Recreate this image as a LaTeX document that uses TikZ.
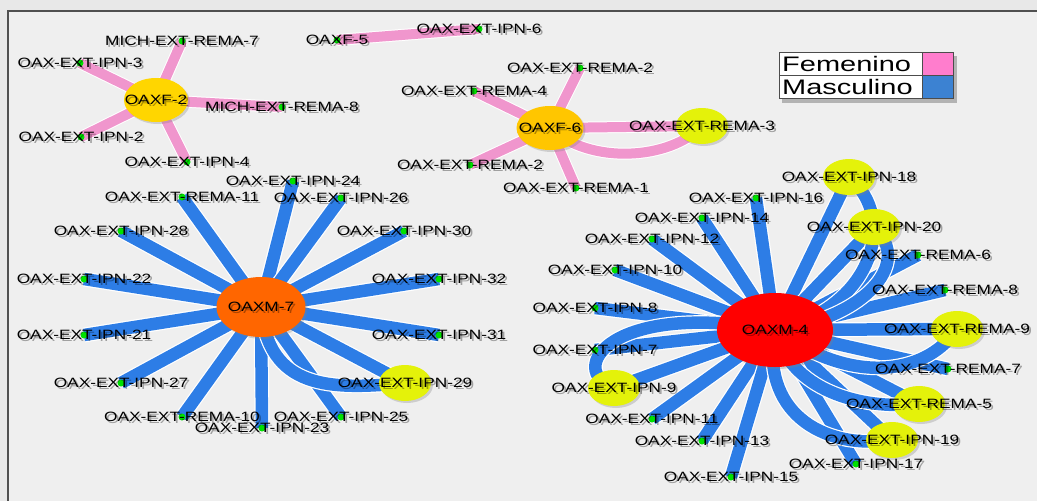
\documentclass[tikz,border=0pt]{standalone}
\usepackage{fontspec}
\newfontfamily\lblfont[FakeStretch=1.28]{Liberation Sans}
\newfontfamily\legfont[FakeStretch=1.38]{Liberation Sans}
\usetikzlibrary{shapes.geometric,shadows,positioning}
\definecolor{bgout}{RGB}{232,232,232}
\definecolor{bgin}{RGB}{239,239,239}
\definecolor{framecol}{RGB}{80,80,80}
\definecolor{edgeblue}{RGB}{45,125,230}
\definecolor{edgepink}{RGB}{240,150,205}
\definecolor{dotgreen}{RGB}{0,225,0}
\definecolor{twinyellow}{RGB}{228,242,10}
\definecolor{fgold}{RGB}{255,214,0}
\definecolor{fdeepgold}{RGB}{255,198,0}
\definecolor{morange}{RGB}{255,102,0}
\definecolor{mred}{RGB}{255,0,0}
\definecolor{legpink}{RGB}{255,125,205}
\definecolor{legblue}{RGB}{60,130,210}
\pgfdeclarelayer{bg}
\pgfdeclarelayer{edges}
\pgfsetlayers{bg,edges,main}
\tikzset{
  lbltext/.style={font=\lblfont\fontsize{13.5pt}{13.5pt}\selectfont,inner sep=0pt,text=black},
  lblshadow/.style={lbltext,opacity=.33,xshift=2pt,yshift=-2pt},
  leaf/.style={circle,fill=dotgreen,inner sep=0pt,minimum size=7pt,
    label={[lblshadow]center:#1},label={[lbltext]center:#1}},
  hub/.style={ellipse,inner sep=0pt,
    drop shadow={shadow xshift=2pt,shadow yshift=-2pt,opacity=.3},
    label={[lblshadow]center:#1},label={[lbltext]center:#1}},
  twin/.style={hub=#1,fill=twinyellow,minimum width=52pt,minimum height=36pt},
  blueedge/.style={draw=white,line width=1.2pt,double=edgeblue,double distance=12.5pt},
  pinkedge/.style={draw=white,line width=1pt,double=edgepink,double distance=10pt},
  legrow/.style={draw=black!70,fill=white,font=\legfont\fontsize{21pt}{21pt}\selectfont,
    text width=137pt,align=left,inner xsep=3pt,inner ysep=0pt,minimum height=23pt},
  legswatch/.style={draw=black!70,minimum width=31pt,minimum height=23pt,inner sep=0pt}
}
\begin{document}
\begin{tikzpicture}[x=1pt,y=-1pt]
\useasboundingbox (0,0) rectangle (1037,501);
\begin{pgfonlayer}{bg}
\fill[bgout] (0,0) rectangle (1037,501);
\fill[bgin] (8,11) rectangle (1037,501);
\draw[framecol,line width=1.5pt] (8,501) -- (8,11) -- (1037,11);
\end{pgfonlayer}

\node[hub=OAXF-2,fill=fgold,minimum width=64pt,minimum height=44pt] (oaxf2) at (156,100) {};
\node[hub=OAXF-6,fill=fdeepgold,minimum width=67pt,minimum height=44pt] (oaxf6) at (550,128) {};
\node[hub=OAXM-7,fill=morange,minimum width=89pt,minimum height=60pt] (oaxm7) at (261,307) {};
\node[hub=OAXM-4,fill=mred,minimum width=116pt,minimum height=74pt] (oaxm4) at (775,330) {};

\node[twin=OAX-EXT-REMA-3] (rema3) at (702,126) {};
\node[twin=OAX-EXT-IPN-29] (ipn29) at (405,383) {};
\node[twin=OAX-EXT-IPN-18] (ipn18) at (849,177) {};
\node[twin=OAX-EXT-IPN-20] (ipn20) at (874,227) {};
\node[twin=OAX-EXT-REMA-9] (rema9) at (957,329) {};
\node[twin=OAX-EXT-IPN-9] (ipn9) at (614,388) {};
\node[twin=OAX-EXT-REMA-5] (rema5) at (919,404) {};
\node[twin=OAX-EXT-IPN-19] (ipn19) at (892,440) {};

\node[leaf=MICH-EXT-REMA-7] (michrema7) at (182,41) {};
\node[leaf=OAX-EXT-IPN-3] (ipn3) at (80,63) {};
\node[leaf=MICH-EXT-REMA-8] (michrema8) at (282,107) {};
\node[leaf=OAX-EXT-IPN-2] (ipn2) at (81,137) {};
\node[leaf=OAX-EXT-IPN-4] (ipn4) at (187,162) {};
\node[leaf=OAXF-5] (oaxf5) at (337,40) {};
\node[leaf=OAX-EXT-IPN-6] (ipn6) at (479,29) {};

\node[leaf=OAX-EXT-REMA-2] (rema2a) at (580,68) {};
\node[leaf=OAX-EXT-REMA-4] (rema4) at (474,91) {};
\node[leaf=OAX-EXT-REMA-2] (rema2b) at (470,165) {};
\node[leaf=OAX-EXT-REMA-1] (rema1) at (576,188) {};

\node[leaf=OAX-EXT-IPN-24] (ipn24) at (293,181) {};
\node[leaf=OAX-EXT-REMA-11] (rema11) at (182,197) {};
\node[leaf=OAX-EXT-IPN-26] (ipn26) at (341,198) {};
\node[leaf=OAX-EXT-IPN-28] (ipn28) at (121,231) {};
\node[leaf=OAX-EXT-IPN-30] (ipn30) at (404,231) {};
\node[leaf=OAX-EXT-IPN-22] (ipn22) at (84,279) {};
\node[leaf=OAX-EXT-IPN-32] (ipn32) at (439,279) {};
\node[leaf=OAX-EXT-IPN-21] (ipn21) at (84,335) {};
\node[leaf=OAX-EXT-IPN-31] (ipn31) at (439,335) {};
\node[leaf=OAX-EXT-IPN-27] (ipn27) at (121,383) {};
\node[leaf=OAX-EXT-REMA-10] (rema10) at (182,417) {};
\node[leaf=OAX-EXT-IPN-25] (ipn25) at (341,417) {};
\node[leaf=OAX-EXT-IPN-23] (ipn23) at (262,428) {};

\node[leaf=OAX-EXT-IPN-16] (ipn16) at (756,198) {};
\node[leaf=OAX-EXT-IPN-14] (ipn14) at (702,218) {};
\node[leaf=OAX-EXT-IPN-12] (ipn12) at (652,239) {};
\node[leaf=OAX-EXT-REMA-6] (rema6) at (918,255) {};
\node[leaf=OAX-EXT-IPN-10] (ipn10) at (615,270) {};
\node[leaf=OAX-EXT-REMA-8] (rema8) at (945,290) {};
\node[leaf=OAX-EXT-IPN-8] (ipn8) at (595,308) {};
\node[leaf=OAX-EXT-IPN-7] (ipn7) at (595,350) {};
\node[leaf=OAX-EXT-REMA-7] (rema7) at (948,369) {};
\node[leaf=OAX-EXT-IPN-11] (ipn11) at (652,419) {};
\node[leaf=OAX-EXT-IPN-13] (ipn13) at (702,441) {};
\node[leaf=OAX-EXT-IPN-17] (ipn17) at (856,464) {};
\node[leaf=OAX-EXT-IPN-15] (ipn15) at (731,477) {};

\node[legrow,anchor=north west] (femenino) at (779,52) {Femenino};
\node[legswatch,fill=legpink,right=0pt of femenino] (pinkcell) {};
\node[legrow,below=0pt of femenino] (masculino) {Masculino};
\node[legswatch,fill=legblue,right=0pt of masculino] (bluecell) {};

\begin{pgfonlayer}{edges}
\fill[black,opacity=.25] ([shift={(3pt,-4pt)}]femenino.north west) rectangle ([shift={(3pt,-4pt)}]bluecell.south east);
\foreach \leafname in {michrema7,ipn3,michrema8,ipn2,ipn4}
  \draw[pinkedge] (oaxf2.center) -- (\leafname.center);
\draw[pinkedge] (oaxf5.center) -- (ipn6.center);
\foreach \leafname in {rema2a,rema4,rema3,rema2b,rema1}
  \draw[pinkedge] (oaxf6.center) -- (\leafname.center);
\draw[pinkedge] (oaxf6.center) .. controls (590,165) and (670,160) .. (rema3.center);

\foreach \leafname in {ipn24,rema11,ipn26,ipn28,ipn30,ipn22,ipn32,ipn21,ipn31,ipn27,ipn29,rema10,ipn25,ipn23}
  \draw[blueedge] (oaxm7.center) -- (\leafname.center);
\draw[blueedge] (oaxm7.center) .. controls (268,390) and (330,390) .. (ipn29.center);

\foreach \leafname in {ipn18,ipn16,ipn14,ipn20,ipn12,rema6,ipn10,rema8,ipn8,rema9,ipn7,rema7,ipn9,rema5,ipn11,ipn19,ipn13,ipn17,ipn15}
  \draw[blueedge] (oaxm4.center) -- (\leafname.center);
\draw[blueedge] (oaxm4.center) .. controls (870,310) and (900,220) .. (ipn18.center);
\draw[blueedge] (oaxm4.center) .. controls (860,320) and (915,265) .. (ipn20.center);
\draw[blueedge] (oaxm4.center) .. controls (860,390) and (930,370) .. (rema9.center);
\draw[blueedge] (oaxm4.center) .. controls (790,390) and (860,410) .. (rema5.center);
\draw[blueedge] (oaxm4.center) .. controls (760,410) and (820,450) .. (ipn19.center);
\draw[blueedge] (oaxm4.center) .. controls (610,300) and (565,370) .. (ipn9.center);
\end{pgfonlayer}
\end{tikzpicture}
\end{document}
